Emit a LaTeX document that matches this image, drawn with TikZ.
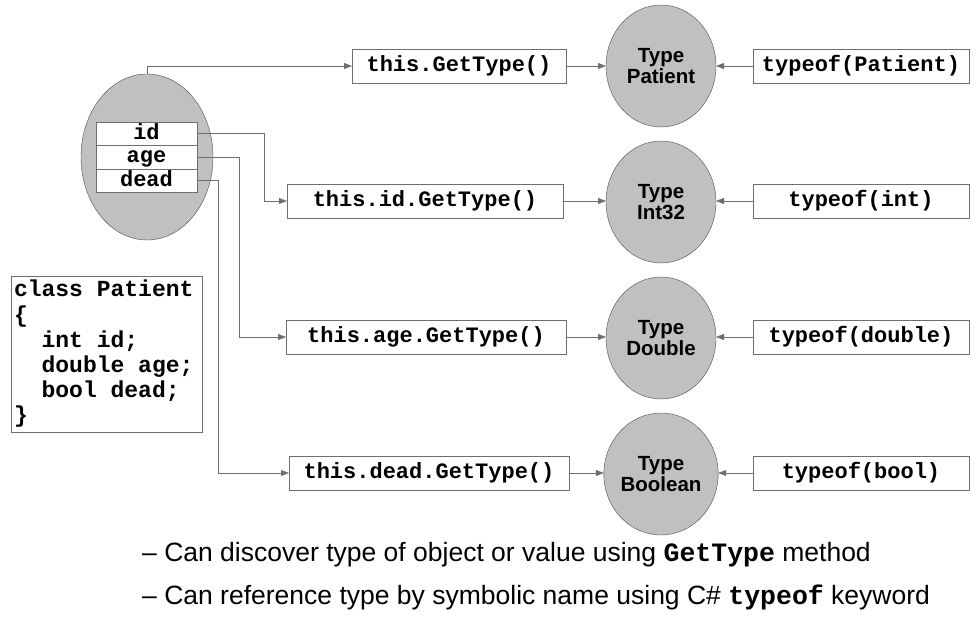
\documentclass[tikz,border=0pt]{standalone}
\usepackage{fontspec}
\setmainfont{Liberation Sans}
\setmonofont{Liberation Mono}
\usetikzlibrary{arrows.meta, shapes.geometric, positioning}

\definecolor{lineGray}{RGB}{110,110,110}
\definecolor{fillGray}{RGB}{192,192,192}
\newcommand{\codefont}{\fontsize{22}{25}\selectfont\ttfamily\bfseries}
\newcommand{\tsp}{\hspace*{0.6em}}

\begin{document}
\begin{tikzpicture}[x=1pt, y=-1pt,
    link/.style={draw=lineGray, -{Triangle[length=8pt,width=6pt]}},
    codebox/.style={draw=lineGray, fill=white, minimum height=34, inner sep=0, outer sep=0,
        text height=15, text depth=4, font=\codefont},
    field/.style={draw=lineGray, fill=white, minimum width=101, minimum height=23.5, inner sep=0, outer sep=0,
        text height=15, text depth=4, font=\codefont},
    typecirc/.style={ellipse, draw=black!70, fill=fillGray, minimum width=110, minimum height=122,
        inner sep=0, outer sep=0, align=center, font=\fontsize{20.5}{21.5}\selectfont\bfseries},
    note/.style={anchor=west, inner sep=0, font=\fontsize{26.5}{30}\selectfont}]
    \useasboundingbox (0,0) rectangle (980,616);

    % Object with its fields
    \node[ellipse, draw=black!70, fill=fillGray, minimum width=132, minimum height=166, outer sep=0] (obj) at (147,157) {};
    \node[field] (fid) at (146.5,133.5) {id};
    \node[field, below=0pt of fid] (fage) {age};
    \node[field, below=0pt of fage] (fdead) {dead};

    % Class declaration
    \node[draw=lineGray, fill=white, text width=185, minimum height=156, inner sep=3, align=left,
        font=\fontsize{23}{25.2}\selectfont\ttfamily\bfseries] (cls) at (106.5,354)
        {class\tsp Patient\\\{\\\tsp\tsp int\tsp id;\\\tsp\tsp double\tsp age;\\\tsp\tsp bool\tsp dead;\\\}};

    % GetType calls
    \node[codebox, minimum width=214] (gthis) at (459,66) {this.GetType()};
    \node[codebox, minimum width=276] (gid) at (425,201) {this.id.GetType()};
    \node[codebox, minimum width=280] (gage) at (426,337) {this.age.GetType()};
    \node[codebox, minimum width=280] (gdead) at (429,473) {this.dead.GetType()};

    % Type objects
    \node[typecirc] (tpatient) at (661,66) {Type\\Patient};
    \node[typecirc] (tint) at (661,202) {Type\\Int32};
    \node[typecirc] (tdouble) at (661,338) {Type\\Double};
    \node[typecirc] (tbool) at (661,474) {Type\\Boolean};

    % typeof expressions
    \node[codebox, minimum width=216] (opatient) at (861,66) {typeof(Patient)};
    \node[codebox, minimum width=216] (oint) at (861,201) {typeof(int)};
    \node[codebox, minimum width=216] (odouble) at (861,337) {typeof(double)};
    \node[codebox, minimum width=216] (obool) at (861,473) {typeof(bool)};

    % Connectors from the object
    \draw[link] (obj.north) |- (gthis.west);
    \draw[link] (fid.east) -- ++(67,0) |- (gid.west);
    \draw[link] (fage.east) -- ++(42,0) |- (gage.west);
    \draw[link] (fdead.east) -- ++(21,0) |- (gdead.west);

    % Connectors to the types
    \draw[link] (gthis.east) -- (gthis.east -| tpatient.west);
    \draw[link] (gid.east) -- (gid.east -| tint.west);
    \draw[link] (gage.east) -- (gage.east -| tdouble.west);
    \draw[link] (gdead.east) -- (gdead.east -| tbool.west);
    \draw[link] (opatient.west) -- (opatient.west -| tpatient.east);
    \draw[link] (oint.west) -- (oint.west -| tint.east);
    \draw[link] (odouble.west) -- (odouble.west -| tdouble.east);
    \draw[link] (obool.west) -- (obool.west -| tbool.east);

    % Notes
    \node[note] (note1) at (142,555) {– Can discover type of object or value using {\ttfamily\bfseries GetType} method};
    \node[note] (note2) at (142,597) {– Can reference type by symbolic name using C\# {\ttfamily\bfseries typeof} keyword};
\end{tikzpicture}
\end{document}
